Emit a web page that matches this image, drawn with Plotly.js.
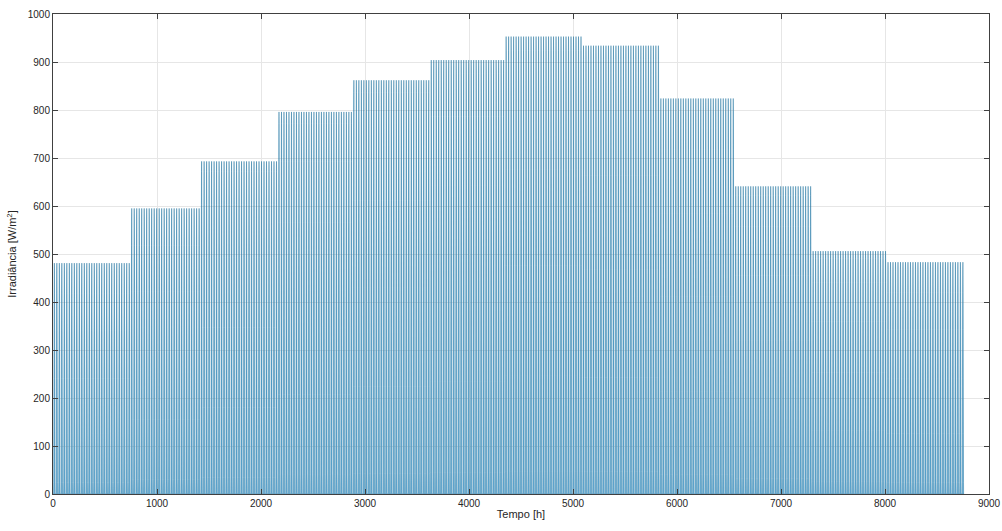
<!DOCTYPE html>
<html>
<head>
<meta charset="utf-8">
<script src="https://cdn.plot.ly/plotly-3.0.1.min.js"></script>
<style>html,body{margin:0;padding:0;background:#fff}#chart{width:1002px;height:531px}</style>
</head>
<body>
<div id="chart"></div>
<script>
// Monthly peak irradiance [W/m^2]
var monthNames = ["Jan","Fev","Mar","Abr","Mai","Jun","Jul","Ago","Set","Out","Nov","Dez"];
var monthPeak = [481, 595, 693, 796, 862, 904, 953, 934, 824, 641, 506, 483];
var monthDays = [31, 28, 31, 30, 31, 30, 31, 31, 30, 31, 30, 31];
// Typical daily shape (fraction of peak, hours 0..23)
var dailyProfile = [0, 0, 0, 0, 0, 0, 0.05, 0.26, 0.5, 0.71, 0.87, 0.97, 1.0, 0.97, 0.87, 0.71, 0.5, 0.26, 0.05, 0, 0, 0, 0, 0];

var xs = [], ys = [];
var h = 0;
for (var m = 0; m < 12; m++) {
  for (var d = 0; d < monthDays[m]; d++) {
    for (var k = 0; k < 24; k++) {
      h++;
      xs.push(h);
      ys.push(monthPeak[m] * dailyProfile[k]);
    }
  }
}

var trace = {
  x: xs, y: ys, type: 'scatter', mode: 'lines',
  line: {color: 'rgba(10,100,150,0.7)', width: 0.6, simplify: false},
  fill: 'tozeroy', fillcolor: 'rgb(120,184,222)',
  hoverinfo: 'skip'
};

var axisCommon = {
  showline: true, mirror: 'ticks', linecolor: '#404040', linewidth: 1,
  ticks: 'inside', ticklen: 5, tickcolor: '#404040',
  showgrid: true, gridcolor: '#e6e6e6', gridwidth: 1,
  zeroline: false, layer: 'above traces',
  tickfont: {family: 'Liberation Sans, Arial, sans-serif', size: 10, color: '#262626'}
};

var layout = {
  width: 1002, height: 531,
  margin: {l: 53, r: 13, t: 14, b: 37},
  paper_bgcolor: '#ffffff', plot_bgcolor: '#ffffff',
  showlegend: false,
  xaxis: Object.assign({}, axisCommon, {
    range: [0, 9000], tickvals: [0,1000,2000,3000,4000,5000,6000,7000,8000,9000],
    title: {text: 'Tempo [h]', standoff: 2, font: {family: 'Liberation Sans, Arial, sans-serif', size: 11, color: '#262626'}}
  }),
  yaxis: Object.assign({}, axisCommon, {
    range: [0, 1000], tickvals: [0,100,200,300,400,500,600,700,800,900,1000],
    title: {text: 'Irradiância [W/m<sup>2</sup>]', standoff: 8, font: {family: 'Liberation Sans, Arial, sans-serif', size: 11, color: '#262626'}}
  })
};

Plotly.newPlot('chart', [trace], layout, {staticPlot: true, displayModeBar: false});
</script>
</body>
</html>
